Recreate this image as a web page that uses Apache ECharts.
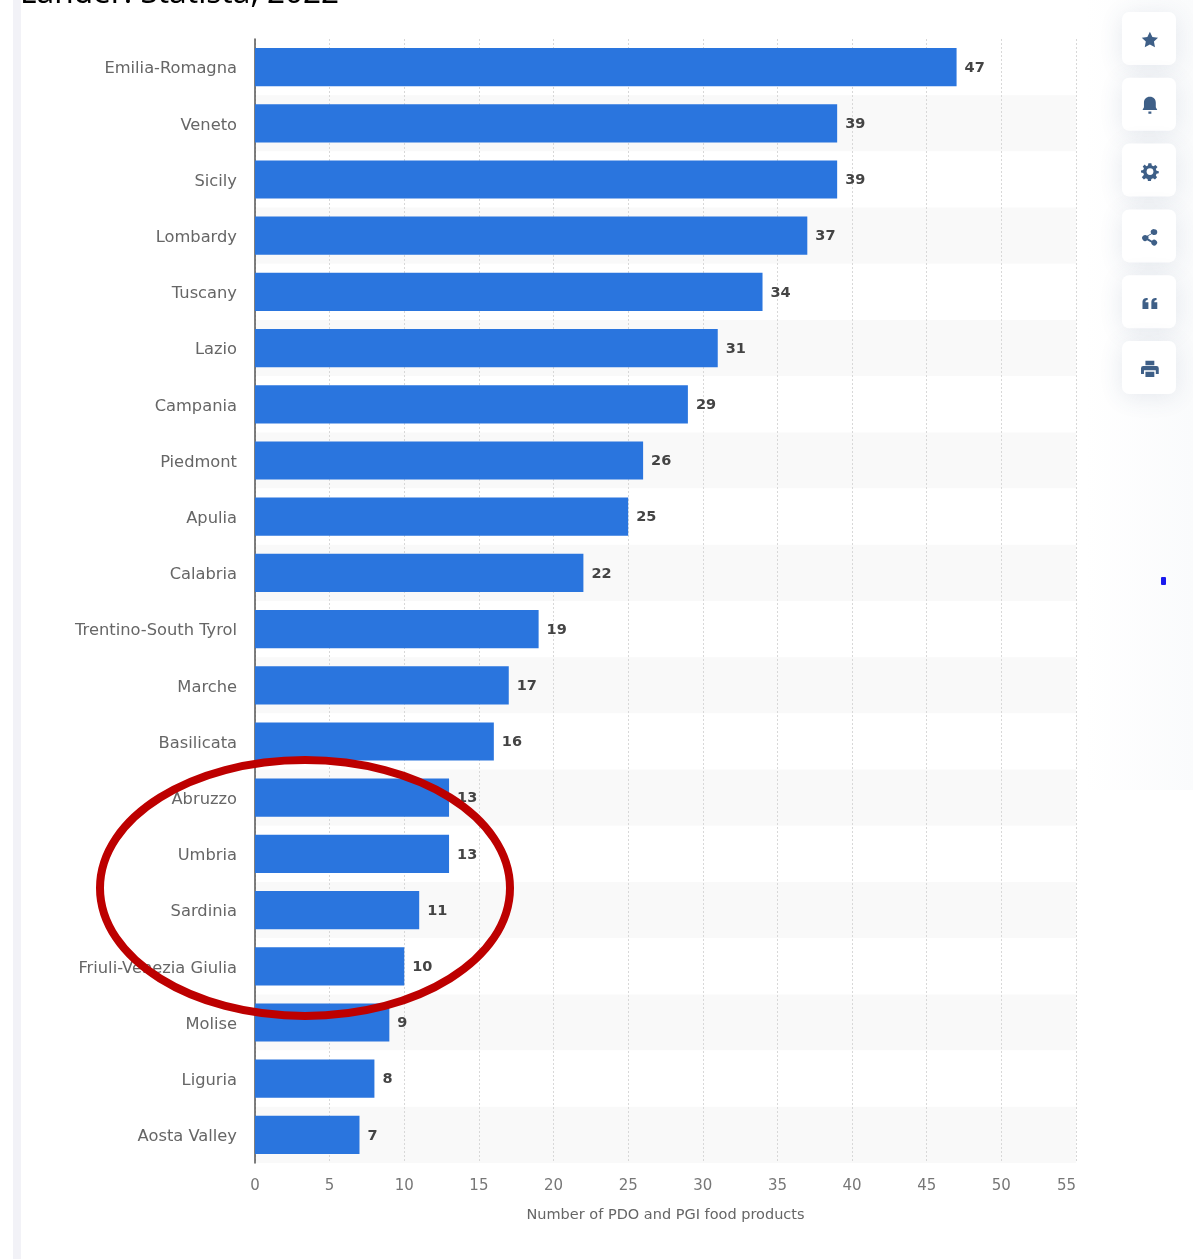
<!DOCTYPE html>
<html><head><meta charset="utf-8">
<style>html,body{margin:0;padding:0;background:#fff}#c{width:1193px;height:1259px}</style>
<script src="https://cdn.jsdelivr.net/npm/echarts@6/dist/echarts.min.js"></script>
</head><body><div id="c"></div>
<script>
const categories = ['Emilia-Romagna','Veneto','Sicily','Lombardy','Tuscany','Lazio','Campania','Piedmont','Apulia','Calabria','Trentino-South Tyrol','Marche','Basilicata','Abruzzo','Umbria','Sardinia','Friuli-Venezia Giulia','Molise','Liguria','Aosta Valley'];
const products = [47,39,39,37,34,31,29,26,25,22,19,17,16,13,13,11,10,9,8,7];
const axisTitle = 'Number of PDO and PGI food products';
const clippedTitle = 'Länder: Statista, 2022';
const iconPaths = [
 'M12 1l3.4 7 7.6 1-5.500 5.300 1.400 7.700-6.900-3.700-6.900 3.700 1.400-7.700L1 9l7.600-1z',
 'M12 0c5 0 8 3.500 8 8v6l2 4H2l2-4V8c0-4.500 3-8 8-8zM10 20h4v3h-4z',
 'M10 1h4l.6 3 2.300 1 2.600-1.700 2.800 2.800L20 8.700l1 2.300 3 .6v2.800l-3 .6-1 2.300 1.700 2.600-2.800 2.800-2.600-1.700-2.300 1-.6 3h-4l-.6-3-2.300-1-2.600 1.700-2.800-2.800L4 16.400l-1-2.300-3-.6v-2.800l3-.6 1-2.300-1.700-2.600 2.800-2.800L7.100 5l2.300-1z',
 'M18 1a4 4 0 1 1-3.200 6.400l-5 2.800a4 4 0 0 1 0 3.600l5 2.800a4 4 0 1 1-1 2.400l-5.600-3a4 4 0 1 1 0-6l5.600-3A4 4 0 0 1 18 1z',
 'M2 11c0-4 2-6 7-6v3c-2 0-3 1-3 3h4v9H2zM14 11c0-4 2-6 7-6v3c-2 0-3 1-3 3h4v9h-8z',
 'M6 1h12v6H6zM3 8h18a3 3 0 0 1 3 3v8h-4v-5H4v5H0v-8a3 3 0 0 1 3-3zM6 16h12v7H6z'
];
iconPaths.forEach((p,i)=>echarts.graphic.registerShape('icon'+i, echarts.graphic.extendPath(p)));
const buttons = iconPaths.flatMap((p,i)=>{
  const top = 12 + i*65.8;
  const items = [
   {type:'rect',z:5,shape:{x:1122,y:top,width:54,height:53,r:7},style:{fill:'#fff',shadowBlur:24,shadowColor:'rgba(60,80,120,0.12)',shadowOffsetY:3}},
   {type:'icon'+i,z:6,x:1141,y:top+19,scaleX:0.74,scaleY:0.74,style:{fill:'#3e5f87'}}
  ];
  if(i===2) items.push({type:'circle',z:7,shape:{cx:1150,cy:top+28,r:3.4},style:{fill:'#fff'}});
  return items;
});
const chart = echarts.init(document.getElementById('c'),null,{renderer:'canvas'});
chart.setOption({
  animation:false,
  backgroundColor:'#fff',
  grid:{left:255,top:39,width:821,height:1124,containLabel:false},
  xAxis:{type:'value',min:0,max:55,interval:5,
    name:axisTitle,nameLocation:'middle',nameGap:45,
    nameTextStyle:{color:'#666',fontFamily:'DejaVu Sans',fontSize:14.5},
    axisLine:{show:false},axisTick:{show:false},
    axisLabel:{color:'#777',fontFamily:'DejaVu Sans',fontSize:15,margin:16,alignMaxLabel:'right'},
    splitLine:{show:true,lineStyle:{color:'#d8d8d8',type:[2,2],width:1}}},
  yAxis:{type:'category',inverse:true,data:categories,
    axisLine:{show:true,lineStyle:{color:'#555',width:1.5}},axisTick:{show:false},
    axisLabel:{margin:18,formatter:v=>'{a|'+v+'}',
      rich:{a:{color:'#666',fontFamily:'DejaVu Sans',fontSize:16.3,padding:[4,0,0,0]}}},
    splitLine:{show:false},
    splitArea:{show:true,areaStyle:{color:['#ffffff','#f9f9f9']}}},
  series:[{type:'bar',data:products,barWidth:'68%',z:3,
    itemStyle:{color:'#2a75de'},
    label:{show:true,position:'right',distance:8,offset:[0,1],color:'#444',fontFamily:'DejaVu Sans',fontSize:14.5,fontWeight:'bold'}}],
  graphic:[
    {type:'rect',z:0,shape:{x:13,y:0,width:8,height:1259},style:{fill:'#f2f2f7'}},
    {type:'text',z:5,style:{x:20,y:-22,text:clippedTitle,fill:'#000',font:'31.5px "Noto Sans"'}},
    {type:'rect',z:0,shape:{x:1085,y:0,width:108,height:790},style:{fill:new echarts.graphic.LinearGradient(0,0,1,0,[{offset:0,color:'#ffffff'},{offset:1,color:'#fafbfc'}])}},
    ...buttons,
    {type:'rect',z:6,shape:{x:1161,y:577,width:5,height:8,r:1},style:{fill:'#1a1aee'}},
    {type:'ellipse',z:10,shape:{cx:305,cy:888,rx:205,ry:128},style:{fill:'none',stroke:'#bd0000',lineWidth:8}}
  ]
});
</script></body></html>
